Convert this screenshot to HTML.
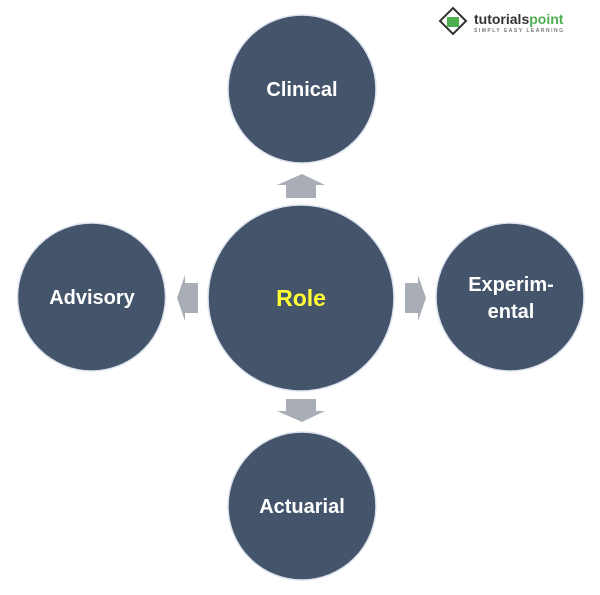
<!DOCTYPE html>
<html><head><style>
html,body{margin:0;padding:0;background:#fff;width:600px;height:595px;overflow:hidden}
svg text{font-family:"Liberation Sans",sans-serif;font-weight:bold;fill:#fff}
</style></head><body>
<svg width="600" height="595" viewBox="0 0 600 595">
<g fill="#44546a" stroke="#dde3ee" stroke-width="1.5">
<circle cx="301" cy="298" r="93"/>
<circle cx="302" cy="89" r="74"/>
<circle cx="91.5" cy="297" r="74"/>
<circle cx="510" cy="297" r="74"/>
<circle cx="302" cy="506" r="74"/>
</g>
<g fill="#a9adb5">
<polygon points="286,198 316,198 316,185 325,185 302,174 277,185 286,185"/>
<polygon points="286,399 316,399 316,411 325,411 302,422 277,411 286,411"/>
<polygon points="198,283 198,313 185,313 185,321 177,298 185,275 185,283"/>
<polygon points="405,283 405,313 418,313 418,321 426,298 418,275 418,283"/>
</g>
<text x="301" y="306" text-anchor="middle" font-size="23" style="fill:#ffff33">Role</text>
<text x="302" y="96" text-anchor="middle" font-size="20">Clinical</text>
<text x="92" y="304" text-anchor="middle" font-size="20">Advisory</text>
<text x="511" y="291" text-anchor="middle" font-size="20">Experim-</text>
<text x="511" y="318" text-anchor="middle" font-size="20">ental</text>
<text x="302" y="513" text-anchor="middle" font-size="20">Actuarial</text>
<g transform="translate(440,8)">
<polygon points="13,0 26,13 13,26 0,13" fill="none" stroke="#333" stroke-width="2"/>
<rect x="7" y="9" width="12" height="10" fill="#4caf50"/>
</g>
<text x="474" y="24" font-size="14" style="fill:#333">tutorials<tspan style="fill:#4caf50">point</tspan></text>
<text x="474" y="32" font-size="5" style="fill:#777;letter-spacing:1.5px">SIMPLY EASY LEARNING</text>
</svg>
</body></html>
